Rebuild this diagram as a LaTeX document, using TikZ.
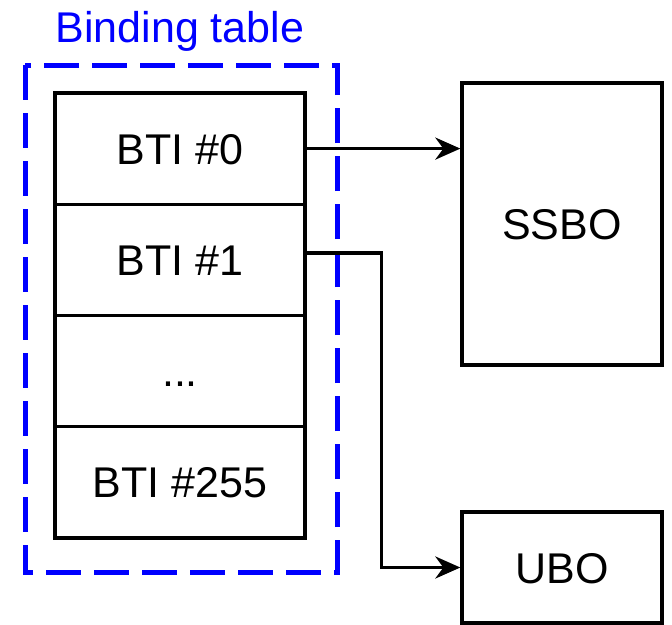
\documentclass[tikz,border=0pt]{standalone}
\usepackage{fontspec}
\setmainfont{Liberation Sans}
\usetikzlibrary{arrows.meta}
\begin{document}
\begin{tikzpicture}[x=1pt,y=-1pt,
  every node/.style={font=\fontsize{43}{50}\selectfont, inner sep=0pt, text height=31pt, text depth=0pt},
  cell/.style={draw=black, line width=3.3pt, minimum width=250pt, minimum height=111.25pt},
  box/.style={draw=black, line width=3.3pt},
  frame/.style={draw=blue, line width=5pt, dash pattern=on 35pt off 13pt},
  link/.style={draw=black, line width=3.3pt, -{Stealth[length=25pt,width=22pt,inset=8pt]}}]
\useasboundingbox (0,0) rectangle (672,624);

% Binding table frame and title
\draw[frame] (25,65) rectangle (337,572);
\node[text=blue] (title) at (180,27) {Binding table};

% Table rows
\node[cell] (bti0)   at (180,148.6) {BTI \#0};
\node[cell] (bti1)   at (180,259.9) {BTI \#1};
\node[cell] (dots)   at (180,371.1) {...};
\node[cell] (bti255) at (180,482.4) {BTI \#255};

% Buffers
\node[box, minimum width=200pt, minimum height=282pt] (ssbo) at (562,224) {SSBO};
\node[box, minimum width=200pt, minimum height=111pt] (ubo) at (562,567.5) {UBO};

% Bindings
\draw[link] (bti0.east) -- (bti0.east -| ssbo.west);
\draw[link] ([yshift=7pt]bti1.east) -| ([xshift=-79pt]ubo.west) -- (ubo.west);
\end{tikzpicture}
\end{document}
